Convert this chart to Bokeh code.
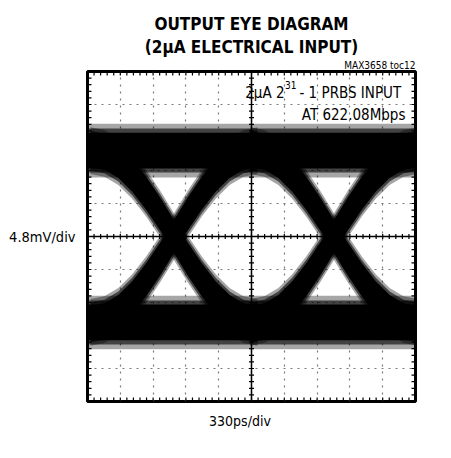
import numpy as np
from bokeh.plotting import figure
from bokeh.models import (Label, Span, Range1d, SingleIntervalTicker, FixedTicker,
                          LinearAxis, Title)
from bokeh.embed import file_html
from bokeh.resources import INLINE

# ---------------- data ----------------
PS_PER_DIV = 330          # horizontal scale
MV_PER_DIV = 4.8          # vertical scale
N_DIV = 10                # divisions on each axis
MINOR_PER_DIV = 5

title_lines = ["OUTPUT EYE DIAGRAM", "(2µA ELECTRICAL INPUT)"]
note_text = "MAX3658 toc12"
x_label = "330ps/div"
y_label = "4.8mV/div"
info_line1_a = "2µA 2"
info_line1_sup = "31"
info_line1_b = " - 1 PRBS INPUT"
info_line2 = "AT 622.08Mbps"

high_rail_mv = 12.5       # logic-one level
low_rail_mv = -12.5       # logic-zero level
crossing_ps = [870, 2480] # eye crossing times
# rising edge, read around a crossing (offset in ps, level in mV)
edge_offset_ps = [-840, -700, -560, -420, -280, -140, 0, 140, 280, 420, 560, 700, 840]
rise_edge_mv = [-12.5, -12.1, -10.9, -8.9, -6.3, -3.3, 0.0, 3.3, 6.3, 8.9, 10.9, 12.1, 12.5]
fall_edge_mv = rise_edge_mv[::-1]
# trace thickness (noise), as half widths in mV, outer to inner
rail_halfwidth_mv = [3.9, 3.2, 2.6]
edge_halfwidth_mv = [3.4, 2.9, 2.4]
band_alpha = [0.35, 0.6, 1.0]

# ---------------- figure ----------------
x_end = PS_PER_DIV * N_DIV
y_half = MV_PER_DIV * N_DIV / 2

FONT = "DejaVu Sans Condensed"

p = figure(width=445, height=451, title=None,
           x_range=Range1d(0, x_end), y_range=Range1d(-y_half, y_half),
           x_axis_location=None, y_axis_location=None,
           output_backend="svg", toolbar_location=None,
           min_border_left=87, min_border_right=30,
           min_border_top=71, min_border_bottom=50)
p.background_fill_color = "white"
p.border_fill_color = "white"
p.outline_line_color = "black"
p.outline_line_width = 3

xticker = SingleIntervalTicker(interval=PS_PER_DIV, num_minor_ticks=MINOR_PER_DIV)
yticker = SingleIntervalTicker(interval=MV_PER_DIV, num_minor_ticks=MINOR_PER_DIV)

for g, t in ((p.xgrid, xticker), (p.ygrid, yticker)):
    g.ticker = t
    g.grid_line_color = "#7a7a7a"
    g.grid_line_width = 1.2
    g.grid_line_dash = "2 5"

# axis captions as single labelled ticks
yax = LinearAxis(ticker=FixedTicker(ticks=[0]), major_label_overrides={0: y_label})
xax = LinearAxis(ticker=FixedTicker(ticks=[1534]), major_label_overrides={1534: x_label})
for ax, size, standoff in ((yax, "14.5px", 12), (xax, "14px", 11)):
    ax.axis_line_color = None
    ax.major_tick_line_color = None
    ax.minor_tick_line_color = None
    ax.major_tick_in = 0
    ax.major_tick_out = 0
    ax.major_label_standoff = standoff
    ax.major_label_text_font = FONT
    ax.major_label_text_font_size = size
    ax.major_label_text_color = "black"
p.add_layout(yax, "left")
p.add_layout(xax, "below")

# titles (first added sits closest to the frame)
p.add_layout(Title(text=note_text, align="right", text_font=FONT, text_font_size="10px",
                   text_font_style="normal", text_color="black", standoff=1), "above")
p.add_layout(Title(text=title_lines[1], align="center", text_font=FONT, text_font_size="17px",
                   text_font_style="bold", text_color="black", standoff=2), "above")
p.add_layout(Title(text=title_lines[0], align="center", text_font=FONT, text_font_size="17px",
                   text_font_style="bold", text_color="black", standoff=0), "above")

# ---------------- eye traces ----------------
traces = [
    (np.array([0, x_end], dtype=float), np.array([high_rail_mv, high_rail_mv]), rail_halfwidth_mv),
    (np.array([0, x_end], dtype=float), np.array([low_rail_mv, low_rail_mv]), rail_halfwidth_mv),
]
for c in crossing_ps:
    xs = c + np.array(edge_offset_ps, dtype=float)
    traces.append((xs, np.array(rise_edge_mv), edge_halfwidth_mv))
    traces.append((xs, np.array(fall_edge_mv), edge_halfwidth_mv))

for k, a in enumerate(band_alpha):
    for xs, ys, hw in traces:
        d = hw[k]
        p.varea(x=xs, y1=ys - d, y2=ys + d, fill_color="black", fill_alpha=a)

# ---------------- graticule cross and frame ticks ----------------
p.add_layout(Span(location=x_end / 2, dimension="height", line_color="black", line_width=1.5))
p.add_layout(Span(location=0, dimension="width", line_color="black", line_width=1.5))
minor_x = np.arange(0, x_end + 1e-6, PS_PER_DIV / MINOR_PER_DIV)
minor_y = np.arange(-y_half, y_half + 1e-6, MV_PER_DIV / MINOR_PER_DIV)
# centre cross ticks
p.scatter(x=minor_x, y=np.zeros_like(minor_x), marker="dash", angle=np.pi / 2,
          size=5, line_color="black", line_width=1.2)
p.scatter(x=np.full_like(minor_y, x_end / 2), y=minor_y, marker="dash",
          size=5, line_color="black", line_width=1.2)
# frame edge ticks (inner halves remain visible)
for yy in (-y_half, y_half):
    p.scatter(x=minor_x, y=np.full_like(minor_x, yy), marker="dash", angle=np.pi / 2,
              size=8, line_color="black", line_width=1.2)
for xx in (0, x_end):
    p.scatter(x=np.full_like(minor_y, xx), y=minor_y, marker="dash",
              size=8, line_color="black", line_width=1.2)

# ---------------- texts inside the frame ----------------
def lab(x, y, text, size, align="right", baseline="alphabetic", style="normal"):
    p.add_layout(Label(x=x, y=y, x_units="data", y_units="data", text=text,
                       text_font=FONT, text_font_size=size, text_font_style=style,
                       text_color="black", text_align=align, text_baseline=baseline))

lab(3199, 20.9, info_line1_b, "15px")
lab(2103, 22.0, info_line1_sup, "10px")
lab(1982, 20.9, info_line1_a, "15px")
lab(3199, 17.7, info_line2, "15px")

open("out.html", "w").write(file_html(p, INLINE))
